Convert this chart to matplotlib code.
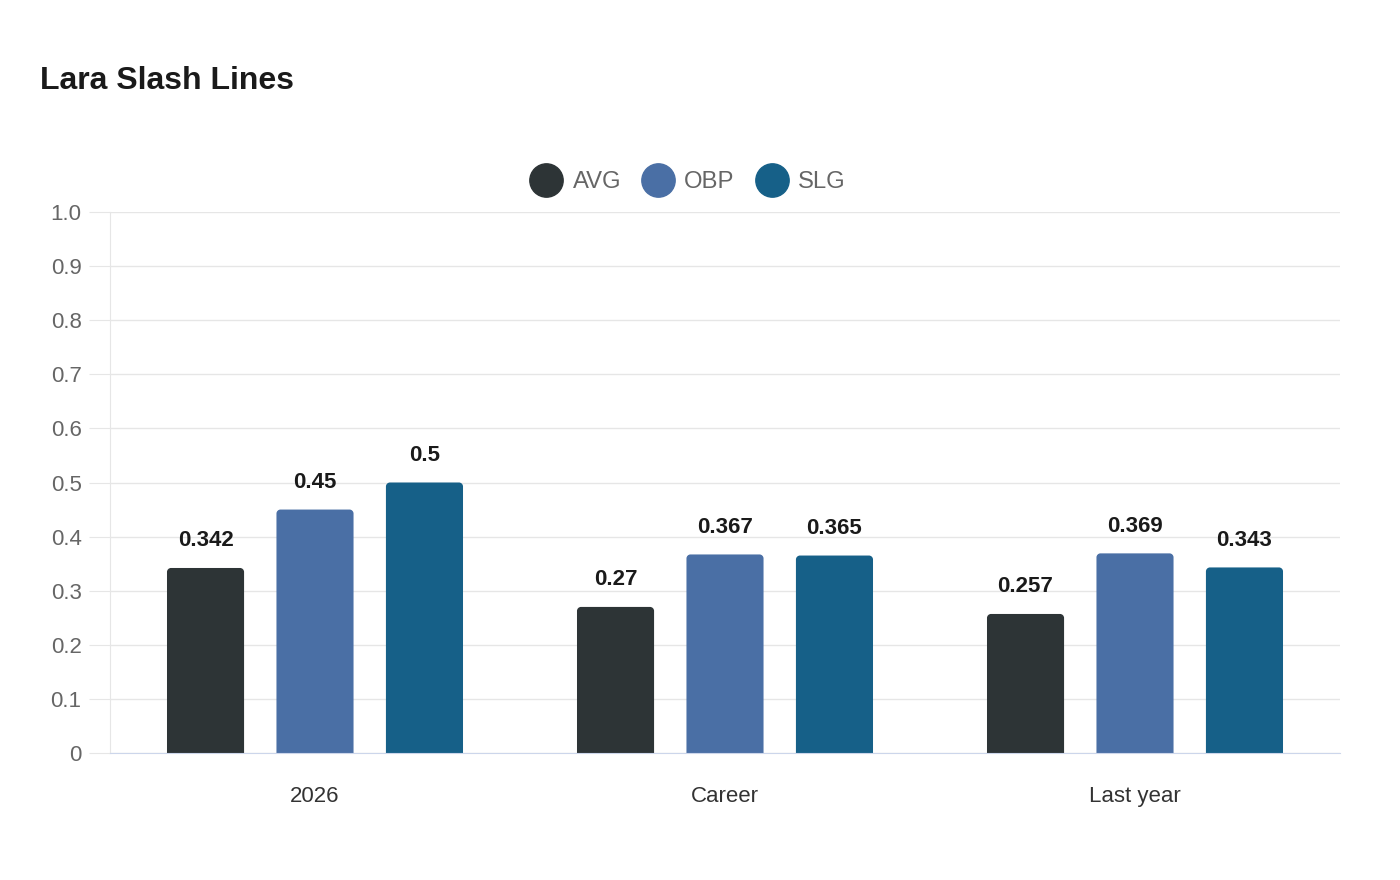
import numpy as np
import matplotlib.pyplot as plt
from matplotlib.path import Path
from matplotlib.patches import PathPatch
from matplotlib.lines import Line2D

plt.rcParams['font.family'] = ['Liberation Sans', 'DejaVu Sans']

categories = ['2026', 'Career', 'Last year']
series = ['AVG', 'OBP', 'SLG']
avg = [0.342, 0.27, 0.257]
obp = [0.45, 0.367, 0.369]
slg = [0.5, 0.365, 0.343]
yticks = [0, 0.1, 0.2, 0.3, 0.4, 0.5, 0.6, 0.7, 0.8, 0.9, 1.0]
ytick_labels = ['0', '0.1', '0.2', '0.3', '0.4', '0.5', '0.6', '0.7', '0.8', '0.9', '1.0']
colors = ['#2d3436', '#4a6fa5', '#166088']

fig = plt.figure(figsize=(14, 8.8), dpi=100)
ax = fig.add_axes([110/1400, 1-753/880, 1230/1400, 541/880])
ax.set_xlim(-0.5, 2.5)
ax.set_ylim(0, 1.0)

width = 0.188
offsets = [-0.267, 0, 0.267]
# corner radius in data units (about 4 px)
rx = 4 / 410
ry = 4 / 541


def rounded_bar(x0, w, h, color):
    x1 = x0 + w
    k = 0.55
    verts = [(x0, 0), (x0, h - ry),
             (x0, h - ry + k*ry), (x0 + rx - k*rx, h), (x0 + rx, h),
             (x1 - rx, h),
             (x1 - rx + k*rx, h), (x1, h - ry + k*ry), (x1, h - ry),
             (x1, 0), (x0, 0)]
    codes = [Path.MOVETO, Path.LINETO,
             Path.CURVE4, Path.CURVE4, Path.CURVE4,
             Path.LINETO,
             Path.CURVE4, Path.CURVE4, Path.CURVE4,
             Path.LINETO, Path.CLOSEPOLY]
    ax.add_patch(PathPatch(Path(verts, codes), facecolor=color, edgecolor='none', zorder=3))


x = np.arange(len(categories))
for vals, off, col in zip([avg, obp, slg], offsets, colors):
    for xi, v in zip(x, vals):
        rounded_bar(xi + off - width/2, width, v, col)
        ax.annotate(f'{v:g}', (xi + off, v), xytext=(0, 19.5), textcoords='offset points',
                    ha='center', va='center', fontsize=16, fontweight='bold', color='#1a1a1a', zorder=4)

ax.set_yticks(yticks)
ax.set_yticklabels(ytick_labels)
ax.set_xticks(x)
ax.set_xticklabels(categories)
ax.grid(axis='y', color='#e6e6e6', linewidth=1, zorder=0)
ax.tick_params(axis='y', length=15, color='#e6e6e6', labelsize=16, labelcolor='#666666', pad=5.5)
ax.tick_params(axis='x', length=0, labelsize=16, labelcolor='#333333', pad=24)
for s in ['top', 'right']:
    ax.spines[s].set_visible(False)
ax.spines['left'].set_color('#e6e6e6')
ax.spines['bottom'].set_color('#ccd6eb')
ax.spines['bottom'].set_zorder(5)

fig.text(40/1400, 1-81/880, 'Lara Slash Lines', fontsize=23, fontweight='bold',
         color='#1a1a1a', ha='left', va='center')

handles = [Line2D([], [], marker='o', linestyle='none', markersize=24, markerfacecolor=c,
                  markeredgecolor=c) for c in colors]
fig.legend(handles, series, loc='center', bbox_to_anchor=(687/1400, 1-182/880), ncol=3,
           frameon=False, fontsize=17.2, labelcolor='#666666', handletextpad=0.35,
           columnspacing=0.8, handlelength=1.5)

fig.savefig('out.png', dpi=100, facecolor='white')
